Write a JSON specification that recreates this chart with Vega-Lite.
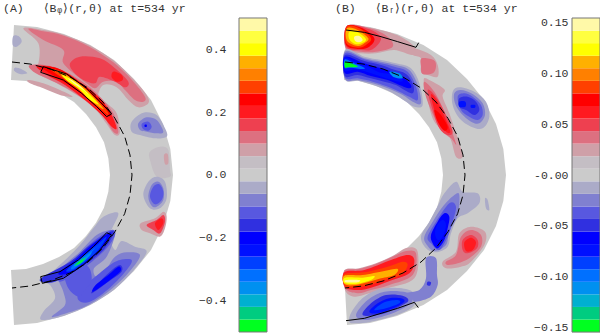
{"$schema":"https://vega.github.io/schema/vega-lite/v6.json","padding":0,"spacing":0,"background":"white","config":{"view":{"stroke":null},"concat":{"spacing":0}},"resolve":{"scale":{"fill":"independent"}},
"hconcat":[
{"width":198,"height":334,
"encoding":{"x":{"field":"x","type":"quantitative","axis":null,"scale":{"domain":[0,594],"nice":false,"zero":false}},"y":{"field":"y","type":"quantitative","axis":null,"scale":{"domain":[1002,0],"nice":false,"zero":false}},"order":{"value":null}},
"layer":[
{"data":{"values":[{"p":0,"x":[42,111,192,271,342,402,453,489,511,519,511,489,453,402,342,271,192,111,42,33,78,129,177,222,258,288,312,325,330,325,312,288,258,222,177,129,78,33],"y":[75,81,102,135,180,237,300,372,447,525,603,678,750,813,870,915,948,969,975,810,807,792,771,744,708,668,623,575,525,475,427,382,342,306,279,258,243,240]}]},"transform":[{"flatten":["x","y"]}],"mark":{"type":"line","fill":"#CBCBCB","strokeWidth":0}},
{"data":{"values":[
{"p":1,"v":0.08,"x":[70,130,192,271,342,402,440,445,415,385,350,310,295,320,350,360,345,315,280,230,170,120,95,115,115],"y":[85,90,104,137,182,239,285,310,322,300,262,255,290,310,340,395,405,365,320,285,250,225,200,190,130]},
{"p":2,"v":0.12,"x":[85,130,192,268,340,398,435,430,405,375,350,310,285,260,240,190,190,130],"y":[87,94,107,140,187,242,290,305,300,270,245,245,265,250,235,190,150,120]},
{"p":3,"v":0.16,"x":[240,300,345,385,375,345,300,285,250,220,210],"y":[170,175,205,245,262,245,230,250,240,215,190]},
{"p":4,"v":0.2,"x":[340,365,368,350,335],"y":[215,225,240,245,232]},
{"p":5,"v":0.12,"x":[90,160,240,300,340,355,340,310,260,200,140,100],"y":[195,200,240,290,340,395,395,350,305,265,235,215]},
{"p":6,"v":0.2,"x":[110,170,245,305,335,350,335,305,255,195,140],"y":[198,205,250,300,345,385,380,345,300,255,225]},
{"p":7,"v":0.24,"x":[125,180,250,310,332,320,295,250,195,150],"y":[200,208,255,310,345,345,325,285,248,220]},
{"p":8,"v":0.28,"x":[150,195,255,315,325,305,260,210],"y":[207,220,265,325,345,330,290,250]},
{"p":9,"v":0.36,"x":[170,215,265,310,290,250,205],"y":[212,235,275,325,315,280,240]},
{"p":10,"v":0.4,"x":[185,225,270,295,270,235,205],"y":[225,245,285,312,300,265,245]},
{"p":11,"v":0.48,"x":[205,240,265,250,225],"y":[235,258,283,270,253]},
{"p":12,"v":-0.04,"x":[40,58,65,50,38],"y":[108,110,125,140,135]},
{"p":13,"v":-0.04,"x":[45,65,82,60,43],"y":[203,208,220,222,213]},
{"p":14,"v":0.08,"x":[85,130,180,218,180,130,90],"y":[240,250,270,290,285,265,250]},
{"p":15,"v":-0.04,"x":[395,430,470,495,500,465,420,395],"y":[365,338,345,385,410,415,405,395]},
{"p":16,"v":-0.08,"x":[415,440,470,490,470,440,420],"y":[370,352,360,395,400,395,390]},
{"p":17,"v":-0.12,"x":[425,445,455,445,430],"y":[372,365,380,392,388]},
{"p":18,"v":-0.2,"x":[434,440,440,434],"y":[374,374,380,380]},
{"p":19,"v":0.04,"x":[450,480,505,510,510,470,450],"y":[455,440,450,510,530,530,480]},
{"p":20,"v":0.08,"x":[492,503,505,495],"y":[465,462,490,492]},
{"p":21,"v":-0.04,"x":[430,445,470,495,500,480,450],"y":[585,545,530,545,595,625,625]},
{"p":22,"v":-0.08,"x":[445,455,475,490,490,470,455],"y":[590,555,545,565,600,620,617]},
{"p":23,"v":-0.12,"x":[450,460,478,490,485,465],"y":[590,560,553,575,600,613]},
{"p":24,"v":0.08,"x":[422,465,490,500,495,480,450,425],"y":[670,655,635,650,685,710,700,690]},
{"p":25,"v":0.16,"x":[440,470,490,495,480,460],"y":[675,660,645,665,700,690]},
{"p":26,"v":0.2,"x":[465,485,490,475],"y":[670,655,670,690]},
{"p":27,"v":-0.04,"x":[125,192,271,342,400,440,405,365,345,330,355,310,280,240,190,140,125,150,165,130],"y":[960,947,914,869,812,755,740,723,750,705,640,650,685,735,785,830,845,855,895,935]},
{"p":28,"v":-0.08,"x":[155,192,265,335,390,420,380,345,320,290,282,320,345,335,290,240,190,175,190,195],"y":[950,942,915,867,813,765,757,770,805,830,805,770,705,690,705,755,800,835,875,915]},
{"p":29,"v":-0.12,"x":[235,270,330,380,395,360,330,280,240],"y":[900,905,863,810,780,780,795,835,865]},
{"p":40,"v":-0.12,"x":[195,230,265,275,255,235,205],"y":[820,795,800,840,870,890,865]},
{"p":30,"v":-0.16,"x":[275,325,365,360,330,290],"y":[880,845,815,795,815,855]},
{"p":31,"v":-0.2,"x":[280,330,362,355,325,285],"y":[875,840,813,800,825,857]},
{"p":32,"v":-0.12,"x":[180,230,285,335,345,320,270,225,180],"y":[825,770,720,690,705,745,790,825,845]},
{"p":33,"v":-0.16,"x":[125,210,270,330,340,310,260,215,165,130],"y":[833,785,735,695,703,750,790,820,845,847]},
{"p":34,"v":-0.2,"x":[175,225,275,325,332,300,255,210],"y":[820,780,735,700,705,750,790,820]},
{"p":35,"v":-0.28,"x":[200,245,290,320,295,250,215],"y":[810,770,735,710,750,790,813]},
{"p":36,"v":-0.32,"x":[215,250,290,285,255,220],"y":[800,770,740,745,780,807]},
{"p":37,"v":-0.36,"x":[222,252,275,262,230],"y":[795,773,757,775,798]},
{"p":38,"v":-0.44,"x":[225,245,258,245,228],"y":[793,777,773,788,797]},
{"p":39,"v":-0.48,"x":[230,243,250,240],"y":[792,782,780,789]}
]},"transform":[{"flatten":["x","y"]}],"mark":{"type":"line","strokeWidth":0,"interpolate":"cardinal-closed"},"encoding":{"fill":{"field":"v","type":"quantitative","legend":null,"scale":{"type":"quantize","domain":[-0.5,0.5],"range":["#00FF20","#00CC80","#00B0D0","#0090F0","#0070FF","#0040FF","#0010FF","#0000FF","#3030E0","#5858E0","#8080D0","#ABABC8","#CBCBCB","#C4BEC4","#CFA0A8","#DD7080","#EE4050","#FF1A20","#FF0000","#FF4000","#FF8000","#FFB000","#FFFF00","#FFFF40","#FFF9A8"]}},"detail":{"field":"p"}}},
{"data":{"values":[{"p":"a","x":[36,90,150,210,264,309,345,374,390,396,390,374,345,309,264,210,150,90,36],"y":[186,192,207,231,264,306,355,409,465,525,585,641,695,744,786,819,843,858,864]}]},"transform":[{"flatten":["x","y"]}],"mark":{"type":"line","color":"black","strokeWidth":1,"strokeDash":[8,4]}},
{"data":{"values":[{"p":"b","x":[130,200,260,300,335,320,290,245,190,122,130],"y":[200,222,265,305,342,350,320,280,240,217,200]},{"p":"c","x":[127,190,250,300,335,320,280,235,180,122,127],"y":[850,835,795,750,705,698,740,780,815,830,850]}]},"transform":[{"flatten":["x","y"]}],"mark":{"type":"line","color":"black","strokeWidth":1},"encoding":{"detail":{"field":"p"}}},
{"data":{"values":[{"x":9,"y":27,"label":"(A)\u00a0\u00a0\u00a0⟨Bᵩ⟩(r,θ) at t=534 yr"}]},"mark":{"type":"text","align":"left","baseline":"middle","font":"Liberation Mono","fontSize":11.5,"color":"#333333"},"encoding":{"text":{"field":"label"}}}
]},
{"width":28,"height":334,
"encoding":{"y":{"field":"lo","type":"quantitative","scale":{"domain":[-0.5064,0.5573],"nice":false,"zero":false},"axis":{"values":[-0.4,-0.2,0,0.2,0.4],"format":".1f","grid":false,"ticks":false,"domain":false,"title":null,"labelFont":"Liberation Mono","labelFontSize":11.5,"labelColor":"#333333","labelPadding":13,"minExtent":39,"maxExtent":39}},"y2":{"field":"hi"}},
"layer":[
{"data":{"values":[{"v":[-0.48,-0.44,-0.4,-0.36,-0.32,-0.28,-0.24,-0.2,-0.16,-0.12,-0.08,-0.04,0,0.04,0.08,0.12,0.16,0.2,0.24,0.28,0.32,0.36,0.4,0.44,0.48],"lo":[-0.5,-0.46,-0.42,-0.38,-0.34,-0.3,-0.26,-0.22,-0.18,-0.14,-0.1,-0.06,-0.02,0.02,0.06,0.1,0.14,0.18,0.22,0.26,0.3,0.34,0.38,0.42,0.46],"hi":[-0.46,-0.42,-0.38,-0.34,-0.3,-0.26,-0.22,-0.18,-0.14,-0.1,-0.06,-0.02,0.02,0.06,0.1,0.14,0.18,0.22,0.26,0.3,0.34,0.38,0.42,0.46,0.5]}]},"transform":[{"flatten":["v","lo","hi"]}],"mark":{"type":"rect"},"encoding":{"fill":{"field":"v","type":"quantitative","legend":null,"scale":{"type":"quantize","domain":[-0.5,0.5],"range":["#00FF20","#00CC80","#00B0D0","#0090F0","#0070FF","#0040FF","#0010FF","#0000FF","#3030E0","#5858E0","#8080D0","#ABABC8","#CBCBCB","#C4BEC4","#CFA0A8","#DD7080","#EE4050","#FF1A20","#FF0000","#FF4000","#FF8000","#FFB000","#FFFF00","#FFFF40","#FFF9A8"]}}}},
{"data":{"values":[{"lo":-0.5,"hi":0.5}]},"mark":{"type":"rect","fill":"transparent","stroke":"#777777","strokeWidth":1}}
]},
{"width":265,"height":334,
"encoding":{"x":{"field":"x","type":"quantitative","axis":null,"scale":{"domain":[-189,606],"nice":false,"zero":false}},"y":{"field":"y","type":"quantitative","axis":null,"scale":{"domain":[1002,0],"nice":false,"zero":false}},"order":{"value":null}},
"layer":[
{"data":{"values":[{"p":0,"x":[48,117,198,277,348,408,459,495,517,525,517,495,459,408,348,277,198,117,48,39,84,135,183,228,264,294,318,331,336,331,318,294,264,228,183,135,84,39],"y":[75,81,102,135,180,237,300,372,447,525,603,678,750,813,870,915,948,969,975,810,807,792,771,744,708,668,623,575,525,475,427,382,342,306,279,258,243,240]}]},"transform":[{"flatten":["x","y"]}],"mark":{"type":"line","fill":"#CBCBCB","strokeWidth":0}},
{"data":{"values":[
{"p":1,"v":0.0247,"x":[48,117,198,250,245,190,135,90,45],"y":[78,83,105,140,165,150,160,160,150]},
{"p":2,"v":0.0247,"x":[190,250,300,320,320,290,270,270,245],"y":[135,145,165,195,230,225,215,175,165]},
{"p":3,"v":0.037,"x":[272,308,315,305,275,270],"y":[175,180,200,220,222,200]},
{"p":4,"v":0.037,"x":[48,117,170,185,135,90,45],"y":[78,85,110,140,155,155,145]},
{"p":5,"v":0.049,"x":[48,115,150,125,90,45],"y":[78,88,115,148,150,140]},
{"p":6,"v":0.074,"x":[48,95,130,115,85,45],"y":[78,85,115,140,147,135]},
{"p":7,"v":0.086,"x":[48,85,120,105,80,45],"y":[80,85,115,135,143,128]},
{"p":8,"v":0.111,"x":[48,80,112,100,80,48],"y":[85,90,115,130,138,122]},
{"p":9,"v":0.123,"x":[55,80,105,92,72,55],"y":[95,97,118,130,132,118]},
{"p":10,"v":0.148,"x":[70,85,95,85,72],"y":[110,108,120,127,122]},
{"p":11,"v":0.0247,"x":[278,295,340,335,355,385,395,375,355,310,290],"y":[240,240,268,290,340,430,470,470,410,365,300]},
{"p":12,"v":0.037,"x":[280,310,340,375,360,330,300,282],"y":[245,275,335,430,415,390,330,280]},
{"p":13,"v":0.049,"x":[290,315,345,365,350,325,305],"y":[270,290,345,395,405,385,330]},
{"p":14,"v":0.062,"x":[300,320,345,358,345,320],"y":[285,305,360,395,395,360]},
{"p":15,"v":0.074,"x":[310,330,350,340,320],"y":[330,345,380,392,365]},
{"p":16,"v":-0.012,"x":[42,100,150,195,240,265,275,250,225,183,135,84,42],"y":[150,170,180,190,205,250,315,320,305,278,258,243,238]},
{"p":17,"v":-0.025,"x":[42,100,150,195,235,260,270,245,215,170,125,80,42],"y":[155,175,185,195,210,255,310,305,285,265,250,240,236]},
{"p":18,"v":-0.037,"x":[42,100,150,190,230,255,260,235,205,165,125,80,42],"y":[160,178,190,200,215,260,300,290,275,258,245,235,232]},
{"p":19,"v":-0.05,"x":[42,100,150,185,225,247,245,220,195,160,120,80,42],"y":[165,183,195,208,222,255,280,270,255,245,235,225,228]},
{"p":20,"v":-0.062,"x":[42,100,150,185,215,240,235,205,170,120,80,42],"y":[170,190,205,215,230,255,265,255,240,228,215,220]},
{"p":21,"v":-0.074,"x":[42,80,100,140,160,190,215,205,165,120,75,42],"y":[172,190,195,215,220,225,240,245,235,220,208,212]},
{"p":22,"v":-0.099,"x":[42,75,100,95,60,42],"y":[178,192,203,207,203,203]},
{"p":23,"v":-0.111,"x":[175,205,215,190],"y":[215,220,235,232]},
{"p":24,"v":-0.148,"x":[42,65,80,50,42],"y":[185,192,200,202,204]},
{"p":25,"v":-0.012,"x":[365,385,430,465,475,455,420,385,365],"y":[275,262,275,305,350,385,380,355,315]},
{"p":26,"v":-0.025,"x":[370,390,425,455,462,445,420,390,372],"y":[280,270,282,310,345,370,365,340,310]},
{"p":27,"v":-0.037,"x":[380,400,425,450,455,440,415,390],"y":[290,280,290,315,345,360,350,330]},
{"p":28,"v":-0.05,"x":[385,410,435,445,430,405,385],"y":[295,290,305,330,345,330,320]},
{"p":29,"v":-0.074,"x":[385,403,403,385],"y":[305,305,320,320]},
{"p":30,"v":-0.074,"x":[420,432,432,420],"y":[315,315,323,323]},
{"p":31,"v":0.0247,"x":[40,84,135,183,228,260,250,170,115,70,42],"y":[811,805,790,769,743,755,835,865,880,890,870]},
{"p":32,"v":0.037,"x":[40,84,135,183,225,255,245,175,120,80,42],"y":[813,807,792,771,753,760,825,855,870,880,865]},
{"p":33,"v":0.062,"x":[40,100,180,230,250,235,170,120,80,42],"y":[817,810,780,765,780,820,845,863,870,861]},
{"p":34,"v":0.086,"x":[40,100,170,215,230,210,160,115,75,42],"y":[823,817,800,785,795,825,840,855,862,857]},
{"p":35,"v":0.111,"x":[40,95,160,200,190,150,110,75,42],"y":[827,825,813,807,825,835,847,855,853]},
{"p":36,"v":0.123,"x":[42,95,130,120,80,42],"y":[833,833,828,840,851,850]},
{"p":37,"v":0.148,"x":[45,85,80,45],"y":[840,840,847,847]},
{"p":38,"v":-0.012,"x":[62,100,160,235,255,240,195,117,75,55],"y":[935,890,865,870,900,925,946,966,970,965]},
{"p":39,"v":-0.025,"x":[75,110,160,225,245,225,170,105],"y":[945,900,875,877,900,920,945,960]},
{"p":40,"v":-0.05,"x":[95,120,165,215,232,205,150],"y":[945,910,885,887,902,920,943]},
{"p":41,"v":-0.074,"x":[115,140,175,210,220,190,140],"y":[935,910,895,895,905,923,940]},
{"p":42,"v":-0.086,"x":[130,160,200,205,165],"y":[930,907,900,910,925]},
{"p":43,"v":-0.025,"x":[225,265,285,285,315,318,320,300,255,245],"y":[880,870,835,775,775,825,855,890,905,900]},
{"p":44,"v":-0.05,"x":[290,300,297,288],"y":[845,847,857,855]},
{"p":45,"v":-0.012,"x":[375,395,440,445,410,380,360,350,315,285,270,294,318,340],"y":[545,575,580,610,640,655,700,740,757,745,710,667,622,580]},
{"p":46,"v":-0.025,"x":[370,385,380,355,345,310,288,280,305,335],"y":[585,585,645,695,735,753,735,710,665,620]},
{"p":47,"v":-0.037,"x":[355,375,365,350,325,300,290,315],"y":[610,620,665,710,750,730,710,665]},
{"p":48,"v":-0.062,"x":[340,355,350,340,320,305,300,320],"y":[640,650,685,720,745,730,705,665]},
{"p":49,"v":-0.074,"x":[335,345,335,320,312,318],"y":[660,675,710,720,700,675]},
{"p":50,"v":0.0247,"x":[335,375,385,420,462,460,420,390,345],"y":[785,755,700,680,695,735,785,800,805]},
{"p":51,"v":0.037,"x":[345,375,390,420,450,450,415,380,350],"y":[785,765,710,690,705,740,775,790,795]},
{"p":52,"v":0.049,"x":[395,420,440,438,410,395],"y":[720,705,720,745,760,750]},
{"p":53,"v":0.062,"x":[400,420,435,425,405],"y":[727,713,727,750,753]},
{"p":54,"v":-0.012,"x":[462,470,475,465],"y":[595,600,630,625]}
]},"transform":[{"flatten":["x","y"]}],"mark":{"type":"line","strokeWidth":0,"interpolate":"cardinal-closed"},"encoding":{"fill":{"field":"v","type":"quantitative","legend":null,"scale":{"type":"quantize","domain":[-0.1544,0.1544],"range":["#00FF20","#00CC80","#00B0D0","#0090F0","#0070FF","#0040FF","#0010FF","#0000FF","#3030E0","#5858E0","#8080D0","#ABABC8","#CBCBCB","#C4BEC4","#CFA0A8","#DD7080","#EE4050","#FF1A20","#FF0000","#FF4000","#FF8000","#FFB000","#FFFF00","#FFFF40","#FFF9A8"]}},"detail":{"field":"p"}}},
{"data":{"values":[{"p":"a","x":[42,96,156,216,270,315,351,380,396,402,396,380,351,315,270,216,156,96,42],"y":[186,192,207,231,264,306,355,409,465,525,585,641,695,744,786,819,843,858,864]}]},"transform":[{"flatten":["x","y"]}],"mark":{"type":"line","color":"black","strokeWidth":1,"strokeDash":[8,4]}},
{"data":{"values":[{"p":"b","x":[45,100,150,200,255,263],"y":[90,97,110,125,142,128]},{"p":"c","x":[45,100,150,200,250,262],"y":[962,955,940,925,907,923]}]},"transform":[{"flatten":["x","y"]}],"mark":{"type":"line","color":"black","strokeWidth":1},"encoding":{"detail":{"field":"p"}}},
{"data":{"values":[{"x":12,"y":27,"label":"(B)\u00a0\u00a0\u00a0⟨Bᵣ⟩(r,θ) at t=534 yr"}]},"mark":{"type":"text","align":"left","baseline":"middle","font":"Liberation Mono","fontSize":11.5,"color":"#333333"},"encoding":{"text":{"field":"label"}}}
]},
{"width":28,"height":334,
"encoding":{"y":{"field":"lo","type":"quantitative","scale":{"domain":[-0.1563,0.1721],"nice":false,"zero":false},"axis":{"values":[-0.15,-0.1,-0.05,0,0.05,0.1,0.15],"labelExpr":"datum.value===0?'-0.00':format(datum.value,'.2f')","grid":false,"ticks":false,"domain":false,"title":null,"labelFont":"Liberation Mono","labelFontSize":11.5,"labelColor":"#333333","labelPadding":4,"minExtent":38,"maxExtent":38}},"y2":{"field":"hi"}},
"layer":[
{"data":{"values":[{"v":[-0.1482,-0.1359,-0.1235,-0.1112,-0.0988,-0.0865,-0.0741,-0.0618,-0.0494,-0.0371,-0.0247,-0.0124,0,0.0124,0.0247,0.0371,0.0494,0.0618,0.0741,0.0865,0.0988,0.1112,0.1235,0.1359,0.1482],"lo":[-0.1544,-0.142,-0.1297,-0.1173,-0.105,-0.0926,-0.0803,-0.0679,-0.0556,-0.0432,-0.0309,-0.0185,-0.0062,0.0062,0.0185,0.0309,0.0432,0.0556,0.0679,0.0803,0.0926,0.105,0.1173,0.1297,0.142],"hi":[-0.142,-0.1297,-0.1173,-0.105,-0.0926,-0.0803,-0.0679,-0.0556,-0.0432,-0.0309,-0.0185,-0.0062,0.0062,0.0185,0.0309,0.0432,0.0556,0.0679,0.0803,0.0926,0.105,0.1173,0.1297,0.142,0.1544]}]},"transform":[{"flatten":["v","lo","hi"]}],"mark":{"type":"rect"},"encoding":{"fill":{"field":"v","type":"quantitative","legend":null,"scale":{"type":"quantize","domain":[-0.1544,0.1544],"range":["#00FF20","#00CC80","#00B0D0","#0090F0","#0070FF","#0040FF","#0010FF","#0000FF","#3030E0","#5858E0","#8080D0","#ABABC8","#CBCBCB","#C4BEC4","#CFA0A8","#DD7080","#EE4050","#FF1A20","#FF0000","#FF4000","#FF8000","#FFB000","#FFFF00","#FFFF40","#FFF9A8"]}}}},
{"data":{"values":[{"lo":-0.1544,"hi":0.1544}]},"mark":{"type":"rect","fill":"transparent","stroke":"#777777","strokeWidth":1}}
]}
]}
